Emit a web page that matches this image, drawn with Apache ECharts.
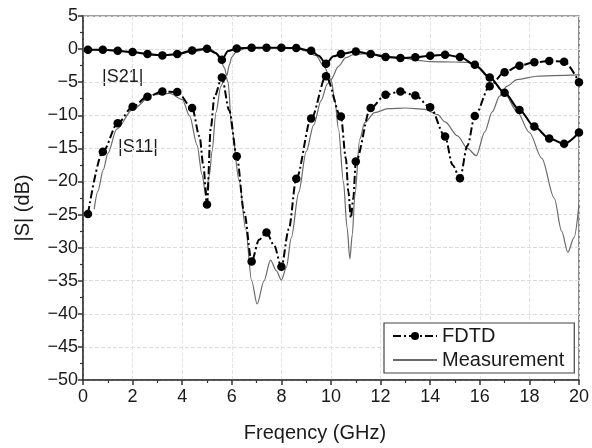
<!DOCTYPE html>
<html>
<head>
<meta charset="utf-8">
<script src="https://cdn.jsdelivr.net/npm/echarts@6/dist/echarts.min.js"></script>
<style>
  html, body { margin: 0; padding: 0; background: #fff; }
  #chart { width: 592px; height: 448px; }
</style>
</head>
<body>
<div id="chart"></div>
<script>
// FDTD samples where the round markers sit (GHz)
const markerFreq = [0.2, 0.8, 1.4, 2.0, 2.6, 3.2, 3.8, 4.4, 5.0, 5.6, 6.2, 6.8, 7.4, 8.0, 8.6, 9.2, 9.8,
  10.4, 11.0, 11.6, 12.2, 12.8, 13.4, 14.0, 14.6, 15.2, 15.8, 16.4, 17.0, 17.6, 18.2, 18.8, 19.4, 20.0];
const fdtdS21 = [-0.1, -0.1, -0.25, -0.45, -0.75, -0.95, -0.75, -0.2, 0.05, -1.6, 0.1, 0.2, 0.2, 0.2, 0.15, -0.25, -2.2,
  -0.75, -0.35, -0.75, -1.2, -1.35, -1.25, -1.0, -0.85, -1.2, -2.35, -4.3, -6.6, -9.2, -11.7, -13.5, -14.3, -12.6];
const fdtdS11 = [-24.9, -15.5, -11.2, -8.7, -7.2, -6.4, -6.5, -8.9, -23.5, -4.3, -16.2, -32.1, -27.7, -32.9, -19.6, -10.5, -4.1,
  -10.2, -17.0, -8.9, -6.9, -6.4, -7.0, -8.8, -13.2, -19.5, -10.1, -5.6, -3.5, -2.5, -2.0, -1.8, -1.9, -5.0];

// extra FDTD curve points between markers (line only)
const fdtdS21ExtraFreq = [5.35, 5.85, 9.5, 10.1];
const fdtdS21Extra = [-0.6, -0.3, -1.0, -1.1];
const fdtdS11ExtraFreq = [4.7, 4.85, 5.15, 5.3, 5.9, 6.5, 7.1, 7.7, 8.3, 10.6, 10.7, 10.8, 10.9, 14.9, 15.5];
const fdtdS11Extra = [-13.2, -17.5, -12.0, -7.2, -9.3, -24.7, -28.8, -29.6, -27.2, -16.5, -21.5, -25.5, -22.5, -17.5, -14.6];

// measurement curves
const measS21Freq = [0.2, 1.0, 2.0, 3.0, 3.8, 4.4, 5.0, 5.2, 5.5, 5.7, 5.8, 5.9, 6.0, 6.2, 6.6, 7.0, 8.0, 8.6, 9.0, 9.4, 9.7,
  10.0, 10.3, 10.6, 10.9, 11.4, 12.0, 12.6, 13.0, 13.5, 14.0, 15.0, 15.5, 16.0, 16.4, 17.0, 17.5, 18.0, 18.5, 19.0, 19.3,
  19.55, 19.8, 20.0];
const measS21 = [-0.1, -0.15, -0.5, -0.95, -0.85, -0.4, -0.05, -0.1, -1.1, -2.8, -4.0, -2.4, -1.2, -0.3, 0.1, 0.2, 0.2, 0.1, -0.3, -1.0, -2.5,
  -4.6, -2.6, -1.3, -0.85, -0.7, -0.9, -1.2, -1.4, -1.7, -1.9, -1.95, -2.0, -2.9, -4.3, -6.7, -9.4, -12.6, -16.5, -22.5, -27.5,
  -30.7, -28.5, -23.5];
const measS11Freq = [0.45, 0.6, 0.82, 1.0, 1.36, 2.0, 2.8, 3.5, 4.0, 4.3, 4.6, 4.8, 4.95, 5.1, 5.2, 5.36, 5.56, 5.75, 5.85,
  6.0, 6.3, 6.56, 6.8, 7.02, 7.3, 7.56, 7.8, 8.0, 8.2, 8.4, 8.7, 9.0, 9.3, 9.6, 9.85, 10.0, 10.15, 10.3, 10.5, 10.65,
  10.76, 10.86, 10.96, 11.16, 11.36, 11.76, 12.3, 13.0, 13.8, 14.3, 14.6, 15.1, 15.5, 15.86, 16.2, 16.5, 16.8, 17.1,
  17.5, 18.3, 19.0, 20.0];
const measS11 = [-24.2, -21.5, -18.2, -15.8, -12.1, -9.1, -6.9, -6.7, -7.6, -10.1, -14.5, -19.0, -22.0, -19.0, -15.5, -9.6, -5.6, -4.0, -5.0,
  -12.1, -20.0, -27.2, -35.0, -38.5, -35.0, -31.9, -33.5, -34.9, -33.0, -28.5, -21.6, -15.5, -11.5, -7.8, -5.3, -4.6, -7.5, -12.0, -20.0, -27.0,
  -31.7, -28.0, -22.2, -13.6, -11.1, -9.6, -9.0, -8.9, -9.1, -9.9, -11.0, -13.1, -15.0, -16.1, -12.5, -9.5, -7.1, -5.6,
  -4.6, -4.1, -4.0, -3.9];

const yRange = [-50, 5];
const xRange = [0, 20];

function fdtdData(vals, exFreq, exVals) {
  const pts = markerFreq.map((f, i) => ({ value: [f, vals[i]] }));
  exFreq.forEach((f, i) => pts.push({ value: [f, exVals[i]], symbol: 'none' }));
  return pts.sort((a, b) => a.value[0] - b.value[0]);
}
function pairs(fs, vs) {
  return fs.map((f, i) => [f, vs[i]]);
}
// origin-style minus sign
const minus = v => String(v).replace('-', '\u2212');

const myChart = echarts.init(document.getElementById('chart'));
const txt = '#1a1a1a';
const font = 'Liberation Sans, Arial, sans-serif';

const measLine = { color: '#6a6a6a', width: 1.2 };

myChart.setOption({
  animation: false,
  textStyle: { fontFamily: font },
  grid: {
    left: 83, right: 9, top: 16, bottom: 66,
    show: true, borderColor: '#444', borderWidth: 1.2
  },
  legend: {
    data: [{ name: 'FDTD' }, { name: 'Measurement', itemStyle: { opacity: 0 } }],
    orient: 'vertical',
    left: 384, top: 323,
    itemWidth: 44, itemHeight: 10, itemGap: 4,
    padding: [3, 10, 3, 8],
    borderColor: '#444', borderWidth: 1.2,
    backgroundColor: '#fff',
    textStyle: { fontSize: 20, color: txt, fontFamily: font }
  },
  xAxis: {
    type: 'value',
    min: xRange[0], max: xRange[1], interval: 2,
    name: 'Freqency (GHz)',
    nameLocation: 'middle',
    nameGap: 43,
    nameTextStyle: { fontSize: 20, color: txt, padding: [0, 32, 0, 0] },
    axisLine: { onZero: false, lineStyle: { color: '#333', width: 1.5 } },
    axisTick: { inside: false, length: 5, lineStyle: { color: '#333', width: 1.5 } },
    minorTick: { show: true, splitNumber: 2, length: 3, lineStyle: { color: '#333', width: 1.2 } },
    axisLabel: { fontSize: 18, color: txt, margin: 8 },
    splitLine: { show: true, lineStyle: { color: '#e2e2e2', type: 'dashed', width: 1 } }
  },
  yAxis: {
    type: 'value',
    min: yRange[0], max: yRange[1], interval: 5,
    name: '|S| (dB)',
    nameLocation: 'middle',
    nameGap: 50,
    nameRotate: 90,
    nameTextStyle: { fontSize: 20, color: txt, padding: [0, 20, 0, 0] },
    axisLine: { onZero: false, lineStyle: { color: '#333', width: 1.5 } },
    axisTick: { inside: false, length: 5, lineStyle: { color: '#333', width: 1.5 } },
    minorTick: { show: true, splitNumber: 2, length: 3, lineStyle: { color: '#333', width: 1.2 } },
    axisLabel: { fontSize: 18, color: txt, margin: 5, formatter: minus },
    splitLine: { show: true, lineStyle: { color: '#dcdcdc', type: 'dashed', width: 1 } }
  },
  graphic: [
    { type: 'text', left: 102, top: 68, style: { text: '|S21|', fill: txt, font: '18px ' + font } },
    { type: 'text', left: 118, top: 138, style: { text: '|S11|', fill: txt, font: '18px ' + font } }
  ],
  series: [
    {
      name: 'Measurement', type: 'line', symbol: 'none', smooth: 0.3, smoothMonotone: 'x',
      data: pairs(measS21Freq, measS21), lineStyle: measLine, itemStyle: { color: '#6a6a6a' }
    },
    {
      name: 'Measurement', type: 'line', symbol: 'none', smooth: 0.3, smoothMonotone: 'x',
      data: pairs(measS11Freq, measS11), lineStyle: measLine, itemStyle: { color: '#6a6a6a' }
    },
    {
      name: 'FDTD', type: 'line', symbol: 'circle', symbolSize: 8.5, showSymbol: true,
      smooth: 0.3, smoothMonotone: 'x',
      data: fdtdData(fdtdS11, fdtdS11ExtraFreq, fdtdS11Extra),
      lineStyle: { color: '#000', width: 2, type: [8, 3, 2, 3] },
      itemStyle: { color: '#000' }
    },
    {
      name: 'FDTD', type: 'line', symbol: 'circle', symbolSize: 8.5, showSymbol: true,
      smooth: 0.3, smoothMonotone: 'x',
      data: fdtdData(fdtdS21, fdtdS21ExtraFreq, fdtdS21Extra),
      lineStyle: { color: '#000', width: 2 },
      itemStyle: { color: '#000' }
    }
  ]
});
</script>
</body>
</html>
